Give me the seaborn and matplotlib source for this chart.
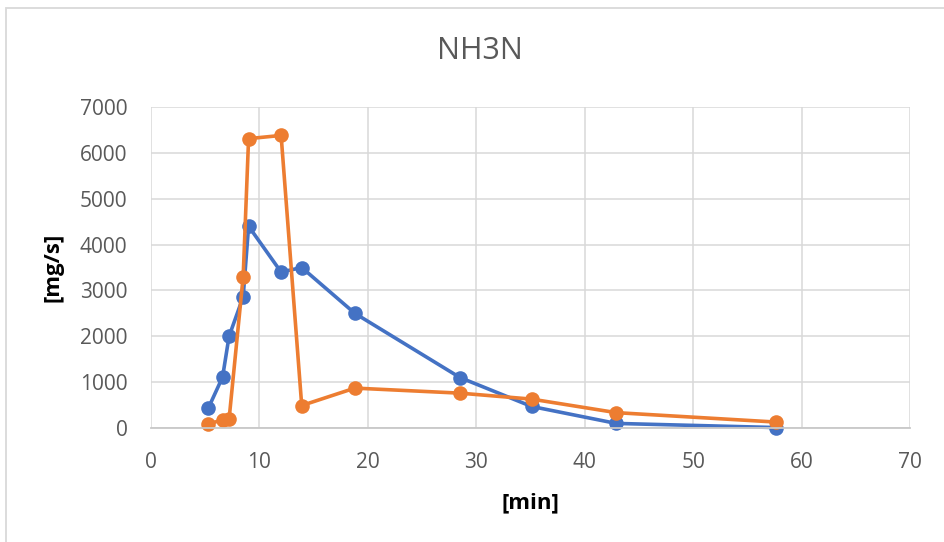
import matplotlib
matplotlib.use("Agg")
import matplotlib.pyplot as plt
import seaborn as sns
import pandas as pd
from matplotlib.patches import Rectangle

# Data
time_min = [5.3, 6.6, 7.2, 8.5, 9.0, 12.0, 13.9, 18.8, 28.5, 35.1, 42.9, 57.6]
series_1 = [440, 1110, 2000, 2860, 4400, 3400, 3500, 2500, 1100, 470, 100, 10]
series_2 = [90, 175, 190, 3300, 6310, 6380, 490, 870, 760, 630, 335, 130]
series_names = ["Series1", "Series2"]
x_ticks = [0, 10, 20, 30, 40, 50, 60, 70]
y_ticks = [0, 1000, 2000, 3000, 4000, 5000, 6000, 7000]

df = pd.concat([
    pd.DataFrame({"x": time_min, "y": series_1, "s": series_names[0]}),
    pd.DataFrame({"x": time_min, "y": series_2, "s": series_names[1]}),
], ignore_index=True)

sns.set_theme(style="whitegrid")
plt.rcParams["font.family"] = ["Open Sans", "DejaVu Sans"]

fig = plt.figure(figsize=(9.45, 5.42), dpi=100)
ax = fig.add_axes([151 / 945, 114 / 542, 759 / 945, 321 / 542])

sns.lineplot(data=df, x="x", y="y", hue="s", palette=["#4472C4", "#ED7D31"],
             marker="o", markersize=10.5, markeredgewidth=0, linewidth=2.6,
             sort=False, estimator=None, legend=False, ax=ax, clip_on=False)

ax.set_xlim(0, 70)
ax.set_ylim(0, 7000)
ax.set_xticks(x_ticks)
ax.set_yticks(y_ticks)
ax.grid(True, color="#D9D9D9", linewidth=1.1)
ax.set_axisbelow(True)
for side in ["left", "right", "top"]:
    ax.spines[side].set_visible(False)
ax.spines["bottom"].set_color("#C8C8C8")
ax.spines["bottom"].set_linewidth(1.3)
ax.tick_params(axis="both", length=0, labelsize=15, labelcolor="#595959")
ax.tick_params(axis="y", pad=17)
ax.tick_params(axis="x", pad=17)

ax.set_xlabel("[min]", fontsize=16, fontweight="bold", color="#000000", labelpad=14)
ax.set_ylabel("[mg/s]", fontsize=16, fontweight="bold", color="#000000", labelpad=12)
fig.text(480 / 945, 1 - 51 / 542, "NH3N", ha="center", va="center",
         fontsize=22, color="#595959")

fig.patches.append(Rectangle((6.5 / 945, -0.2), 2.0, 1.2 - 7.5 / 542,
                             transform=fig.transFigure, fill=False,
                             edgecolor="#D9D9D9", linewidth=1.3))

fig.savefig("out.png", dpi=100, facecolor="white")
